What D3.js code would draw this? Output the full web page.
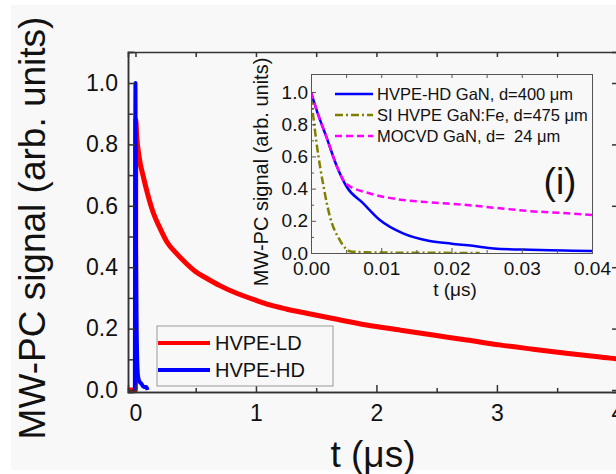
<!DOCTYPE html>
<html><head><meta charset="utf-8">
<script src="https://cdn.jsdelivr.net/npm/d3@7"></script>
<style>
html,body{margin:0;padding:0;background:#fff;overflow:hidden}
svg{display:block}
text{font-family:"Liberation Sans",Arial,sans-serif;fill:#111}
</style></head><body>
<svg id="c" width="616" height="474"></svg>
<script>
// ---------- data ----------
const redT = [-0.06, 0, 0.003, 0.01, 0.03, 0.065, 0.1, 0.15, 0.2, 0.26, 0.34, 0.42, 0.5, 0.59, 0.7, 0.84, 1.0, 1.115, 1.25, 1.42, 1.65, 1.917, 2.2, 2.47, 2.75, 3.02, 3.3, 3.575, 3.8, 3.96, 4.02];
const redV = [0, 0, 0.88, 0.83, 0.76, 0.695, 0.64, 0.575, 0.53, 0.483, 0.445, 0.413, 0.385, 0.364, 0.34, 0.315, 0.292, 0.277, 0.264, 0.25, 0.232, 0.212, 0.195, 0.179, 0.163, 0.147, 0.133, 0.12, 0.11, 0.103, 0.1];
const blueT = [-0.005, 0, 0.004, 0.01, 0.02, 0.03, 0.05, 0.07, 0.09, 0.1];
const blueV = [0, 1.0, 0.5, 0.2, 0.05, 0.03, 0.02, 0.01, 0.01, 0];

const insHDT = [0, 0.0008, 0.0022, 0.0037, 0.0051, 0.0074, 0.0098, 0.0131, 0.0169, 0.02, 0.023, 0.026, 0.0312, 0.036, 0.04];
const insHDV = [1.0, 0.888, 0.72, 0.536, 0.41, 0.31, 0.205, 0.122, 0.075, 0.058, 0.045, 0.028, 0.02, 0.016, 0.012];
const insSIT = [0, 0.0008, 0.0018, 0.0027, 0.0041, 0.0056, 0.008, 0.012, 0.018, 0.024];
const insSIV = [0.97, 0.68, 0.41, 0.225, 0.08, 0.01, 0.004, 0.002, 0.001, 0.0];
const insMOT = [0, 0.0008, 0.0022, 0.0037, 0.005, 0.0084, 0.0122, 0.0169, 0.0217, 0.0264, 0.0312, 0.036, 0.04];
const insMOV = [1.0, 0.888, 0.72, 0.536, 0.43, 0.37, 0.335, 0.315, 0.3, 0.28, 0.26, 0.248, 0.236];

const mainXTicks = [0, 1, 2, 3, 4];
const mainYTicks = [0, 0.2, 0.4, 0.6, 0.8, 1.0];
const insXTicks = [0, 0.01, 0.02, 0.03, 0.04];
const insYTicks = [0, 0.2, 0.4, 0.6, 0.8, 1.0];
const mainLegend = ["HVPE-LD", "HVPE-HD"];
const insLegend = ["HVPE-HD GaN, d=400 μm", "SI HVPE GaN:Fe, d=475 μm", "MOCVD GaN, d=  24 μm"];

// ---------- setup ----------
const svg = d3.select("#c");
svg.append("rect").attr("x", 11).attr("y", 5).attr("width", 605).attr("height", 465).attr("fill", "#f8f8f8");

const mx = d3.scaleLinear().domain([-0.062, 4.03]).range([128, 621]);
const my = d3.scaleLinear().domain([-0.0065, 1.101]).range([392, 52]);

const ix = d3.scaleLinear().domain([0, 0.04]).range([311, 592]);
const iy = d3.scaleLinear().domain([0, 1.112]).range([253, 74]);

const range = (a, b, s) => d3.range(a, b + s / 2, s);

function styleAxis(g, col, w) {
  g.select(".domain").attr("stroke", col).attr("stroke-width", w);
  g.selectAll(".tick line").attr("stroke", col).attr("stroke-width", w);
}

// ---------- main clip ----------
svg.append("clipPath").attr("id", "mclip").append("rect")
  .attr("x", 128).attr("y", 52).attr("width", 493).attr("height", 340);

const mg = svg.append("g");
const lineM = (T, V) => d3.line().x((d, i) => mx(T[i])).y((d, i) => my(V[i])).curve(d3.curveMonotoneX)(T);

mg.append("path").attr("d", lineM(redT, redV)).attr("fill", "none")
  .attr("stroke", "#ff0000").attr("stroke-width", 5).attr("clip-path", "url(#mclip)");
mg.append("path").attr("d", lineM(blueT, blueV)).attr("fill", "none")
  .attr("stroke", "#0000ff").attr("stroke-width", 4).attr("stroke-linejoin", "round").attr("clip-path", "url(#mclip)");

// main axes
const mcol = "#333", mw = 1.5;
let g = svg.append("g").attr("transform", `translate(0,392)`)
  .call(d3.axisBottom(mx).tickValues(range(0.5, 3.5, 1)).tickSize(-4).tickFormat(""));
styleAxis(g, mcol, mw);
g = svg.append("g").attr("transform", `translate(0,392)`)
  .call(d3.axisBottom(mx).tickValues(mainXTicks).tickSize(-7).tickPadding(13).tickFormat(d3.format("d")));
styleAxis(g, mcol, mw);
g.selectAll("text").attr("font-size", 23).attr("font-family", "Liberation Sans, Arial, sans-serif");
g = svg.append("g").attr("transform", `translate(0,52)`)
  .call(d3.axisTop(mx).tickValues(range(0, 4, 0.5)).tickSize(-5).tickFormat(""));
styleAxis(g, mcol, mw);
g = svg.append("g").attr("transform", `translate(128,0)`)
  .call(d3.axisLeft(my).tickValues(range(0.1, 0.9, 0.2)).tickSize(-5).tickFormat(""));
styleAxis(g, mcol, mw);
g = svg.append("g").attr("transform", `translate(128,0)`)
  .call(d3.axisLeft(my).tickValues(mainYTicks).tickSize(-7).tickPadding(10).tickFormat(d3.format(".1f")));
styleAxis(g, mcol, mw);
g.selectAll("text").attr("font-size", 23).attr("font-family", "Liberation Sans, Arial, sans-serif");
g = svg.append("g").attr("transform", `translate(${mx(4.03)},0)`)
  .call(d3.axisRight(my).tickValues(range(0.1, 0.9, 0.2)).tickSize(-5).tickFormat(""));
styleAxis(g, mcol, mw);
g = svg.append("g").attr("transform", `translate(${mx(4.03)},0)`)
  .call(d3.axisRight(my).tickValues(mainYTicks).tickSize(-9).tickFormat(""));
styleAxis(g, mcol, mw);

// main titles
svg.append("text").attr("transform", "translate(45,228) rotate(-90)")
  .attr("text-anchor", "middle").attr("font-size", 37).text("MW-PC signal (arb. units)");
svg.append("text").attr("x", 373).attr("y", 467)
  .attr("text-anchor", "middle").attr("font-size", 37).text("t (μs)");

// main legend
svg.append("rect").attr("x", 157).attr("y", 326).attr("width", 176).attr("height", 60)
  .attr("fill", "#f8f8f8").attr("stroke", "#999").attr("stroke-width", 1);
const mlColors = ["#ff0000", "#0000ff"];
mainLegend.forEach((name, i) => {
  const yy = 343 + i * 27;
  svg.append("line").attr("x1", 158).attr("x2", 210).attr("y1", yy).attr("y2", yy)
    .attr("stroke", mlColors[i]).attr("stroke-width", 4);
  svg.append("text").attr("x", 215).attr("y", yy + 7).attr("font-size", 20).text(name);
});

// ---------- inset ----------
svg.append("clipPath").attr("id", "iclip").append("rect")
  .attr("x", 311).attr("y", 74).attr("width", 281).attr("height", 179);
const lineI = (T, V) => d3.line().x((d, i) => ix(T[i])).y((d, i) => iy(V[i])).curve(d3.curveMonotoneX)(T);

const ig = svg.append("g").attr("clip-path", "url(#iclip)");
ig.append("path").attr("d", lineI(insSIT, insSIV)).attr("fill", "none")
  .attr("stroke", "#808000").attr("stroke-width", 2.5).attr("stroke-dasharray", "8,3,2,3");
ig.append("path").attr("d", lineI(insHDT, insHDV)).attr("fill", "none")
  .attr("stroke", "#0000ff").attr("stroke-width", 2.5);
ig.append("path").attr("d", lineI(insMOT, insMOV)).attr("fill", "none")
  .attr("stroke", "#ff00ff").attr("stroke-width", 2.5).attr("stroke-dasharray", "7,4");

const icol = "#555", iw = 1;
g = svg.append("g").attr("transform", `translate(0,253)`)
  .call(d3.axisBottom(ix).tickValues(range(0.005, 0.035, 0.01)).tickSize(-3).tickFormat(""));
styleAxis(g, icol, iw);
g = svg.append("g").attr("transform", `translate(0,253)`)
  .call(d3.axisBottom(ix).tickValues(insXTicks).tickSize(-5).tickPadding(9).tickFormat(d3.format(".2f")));
styleAxis(g, icol, iw);
g.selectAll("text").attr("font-size", 19).attr("font-family", "Liberation Sans, Arial, sans-serif");
g = svg.append("g").attr("transform", `translate(0,74)`)
  .call(d3.axisTop(ix).tickValues(range(0, 0.04, 0.005)).tickSize(-4).tickFormat(""));
styleAxis(g, icol, iw);
g = svg.append("g").attr("transform", `translate(311,0)`)
  .call(d3.axisLeft(iy).tickValues(range(0.1, 0.9, 0.2)).tickSize(-3).tickFormat(""));
styleAxis(g, icol, iw);
g = svg.append("g").attr("transform", `translate(311,0)`)
  .call(d3.axisLeft(iy).tickValues(insYTicks).tickSize(-5).tickPadding(3).tickFormat(d3.format(".1f")));
styleAxis(g, icol, iw);
g.selectAll("text").attr("font-size", 19).attr("font-family", "Liberation Sans, Arial, sans-serif");
g = svg.append("g").attr("transform", `translate(592,0)`)
  .call(d3.axisRight(iy).tickValues([]).tickSize(0));
styleAxis(g, icol, iw);

svg.append("text").attr("transform", "translate(268,172) rotate(-90)")
  .attr("text-anchor", "middle").attr("font-size", 20).text("MW-PC signal (arb. units)");
svg.append("text").attr("x", 455).attr("y", 296)
  .attr("text-anchor", "middle").attr("font-size", 19).text("t (μs)");
svg.append("text").attr("x", 560).attr("y", 194)
  .attr("text-anchor", "middle").attr("font-size", 37).text("(i)");

const ilColors = ["#0000ff", "#808000", "#ff00ff"];
const ilDash = [null, "8,3,2,3", "7,4"];
insLegend.forEach((name, i) => {
  const yy = 94 + i * 21;
  svg.append("line").attr("x1", 335).attr("x2", 373).attr("y1", yy).attr("y2", yy)
    .attr("stroke", ilColors[i]).attr("stroke-width", 2.5).attr("stroke-dasharray", ilDash[i]);
  svg.append("text").attr("x", 377).attr("y", yy + 6).attr("font-size", 16.5)
    .style("white-space", "pre").text(name);
});
</script>
</body></html>
